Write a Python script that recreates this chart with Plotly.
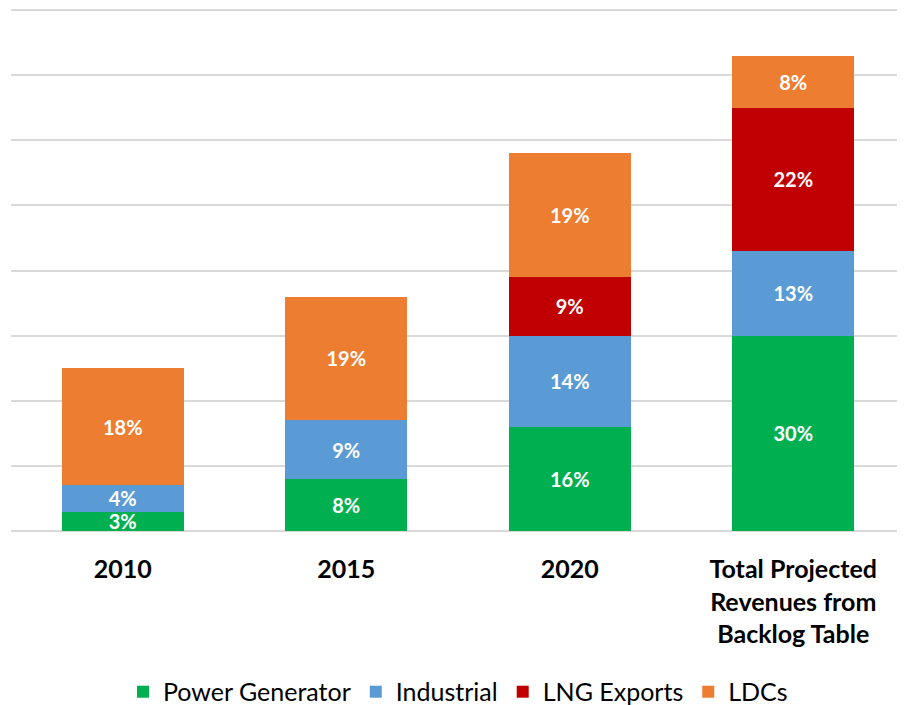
import plotly.graph_objects as go

categories = ["2010", "2015", "2020", "Total Projected<br>Revenues from<br>Backlog Table"]
power_generator = [3, 8, 16, 30]
industrial = [4, 9, 14, 13]
lng_exports = [0, 0, 9, 22]
ldcs = [18, 19, 19, 8]

series = [
    ("Power Generator", power_generator, "#00B050"),
    ("Industrial", industrial, "#5B9BD5"),
    ("LNG Exports", lng_exports, "#C00000"),
    ("LDCs", ldcs, "#ED7D31"),
]

FONT = "Lato, Carlito, 'Open Sans', sans-serif"

fig = go.Figure()
for name, vals, color in series:
    fig.add_trace(go.Bar(
        name=name,
        x=categories,
        y=vals,
        marker=dict(color=color, line=dict(width=0)),
        text=[f"{v}%" if v else "" for v in vals],
        textposition="inside",
        insidetextanchor="middle",
        textangle=0,
        constraintext="none",
        cliponaxis=False,
        textfont=dict(family=FONT, size=20, color="white", weight="bold"),
        hoverinfo="skip",
    ))

fig.update_layout(
    barmode="stack",
    bargap=0.454,
    width=897,
    height=697,
    paper_bgcolor="white",
    plot_bgcolor="white",
    margin=dict(l=3, r=0, t=0, b=172, autoexpand=False),
    font=dict(family=FONT, color="black"),
    showlegend=True,
    legend=dict(
        orientation="h",
        x=0.5, xanchor="center",
        yref="container",
        y=0.0187, yanchor="middle",
        font=dict(family=FONT, size=25, color="black"),
        traceorder="normal",
        itemwidth=30,
    ),
    xaxis=dict(
        showgrid=False,
        showline=False,
        ticks="",
        ticklabelstandoff=19,
        tickfont=dict(family=FONT, size=25, color="black", weight="bold"),
    ),
    yaxis=dict(
        range=[-0.3, 80.3],
        tickvals=[0, 10, 20, 30, 40, 50, 60, 70, 80],
        showticklabels=False,
        showgrid=True,
        gridcolor="#D9D9D9",
        gridwidth=2,
        zeroline=True,
        zerolinecolor="#D9D9D9",
        zerolinewidth=2,
        showline=False,
        fixedrange=True,
    ),
)

fig.write_html("out.html")
